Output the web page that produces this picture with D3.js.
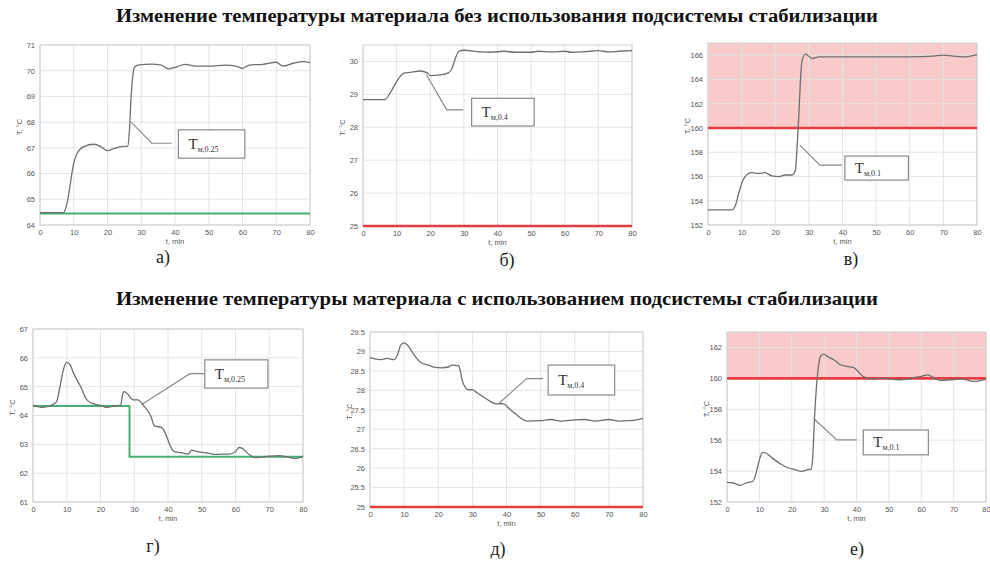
<!DOCTYPE html>
<html>
<head>
<meta charset="utf-8">
<script src="https://cdn.jsdelivr.net/npm/d3@7"></script>
<style>
  body { margin: 0; background: #fff; }
</style>
</head>
<body>
<div id="chart"></div>
<script>
// Titles of the two rows
const titleTop = "Изменение температуры материала без использования подсистемы стабилизации";
const titleBottom = "Изменение температуры материала с использованием подсистемы стабилизации";

const timeTicks = [0, 10, 20, 30, 40, 50, 60, 70, 80];

// а) T at 0.25, no stabilisation
const timeA = [0, 7, 8, 10, 11, 13, 16, 18, 20, 22, 24, 26, 26.5, 27, 28, 29, 33, 36, 38, 40, 43, 46, 50, 55, 58, 60, 62, 66, 70, 72, 75, 78, 80];
const tempA = [64.48, 64.48, 64.84, 66.40, 66.79, 67.05, 67.14, 67.05, 66.89, 66.98, 67.05, 67.07, 67.69, 68.99, 70.13, 70.22, 70.26, 70.22, 70.07, 70.13, 70.25, 70.18, 70.18, 70.22, 70.18, 70.09, 70.22, 70.25, 70.33, 70.18, 70.29, 70.35, 70.31];
const levelA = 64.45;
const yTicksA = [64, 65, 66, 67, 68, 69, 70, 71];

// б) T at 0.4, no stabilisation
const timeB = [0, 6.5, 8, 10, 11, 12, 14, 17, 19, 20, 23, 25.5, 26.5, 27.5, 28.5, 30, 35, 38, 42, 45, 50, 52, 56, 60, 62, 65, 68, 70, 73, 76, 80];
const tempB = [28.84, 28.84, 29.03, 29.39, 29.54, 29.64, 29.67, 29.71, 29.66, 29.57, 29.59, 29.66, 29.80, 30.10, 30.31, 30.34, 30.29, 30.28, 30.31, 30.28, 30.28, 30.31, 30.29, 30.31, 30.28, 30.29, 30.31, 30.33, 30.29, 30.31, 30.33];
const limitB = 25;
const yTicksB = [25, 26, 27, 28, 29, 30];

// в) T at 0.1, no stabilisation
const timeC = [0, 7, 8, 9, 10, 11, 13, 15, 17, 19, 21, 23, 25, 26, 26.5, 27, 27.5, 28, 29, 31, 33, 40, 50, 60, 67, 70, 73, 76, 80];
const tempC = [153.24, 153.24, 153.51, 154.47, 155.43, 155.98, 156.31, 156.25, 156.31, 156.04, 155.98, 156.12, 156.12, 156.53, 158.45, 160.92, 163.94, 165.59, 166.08, 165.72, 165.86, 165.86, 165.86, 165.86, 165.92, 166.0, 165.92, 165.86, 166.05];
const limitC = 160;
const yTicksC = [152, 154, 156, 158, 160, 162, 164, 166];

// г) T at 0.25, with stabilisation
const timeD = [0, 3, 6, 7, 8, 9, 10, 11, 12, 14, 16, 18, 20, 22, 24, 26, 26.5, 27, 28, 29, 30, 31, 33, 35, 36, 38, 39, 40, 41, 42, 44, 46, 47, 49, 51, 54, 56, 58, 60, 61, 62, 64, 66, 70, 73, 76, 78, 80];
const tempD = [64.36, 64.28, 64.39, 64.48, 65.0, 65.58, 65.84, 65.76, 65.47, 65.03, 64.54, 64.40, 64.35, 64.28, 64.33, 64.36, 64.71, 64.83, 64.75, 64.60, 64.54, 64.54, 64.31, 63.96, 63.63, 63.59, 63.44, 63.15, 62.86, 62.74, 62.71, 62.66, 62.80, 62.74, 62.71, 62.65, 62.66, 62.66, 62.74, 62.89, 62.86, 62.65, 62.54, 62.59, 62.61, 62.54, 62.51, 62.59];
const setTimeD = [0, 28.6, 28.6, 80];
const setTempD = [64.33, 64.33, 62.57, 62.57];
const yTicksD = [61, 62, 63, 64, 65, 66, 67];

// д) T at 0.4, with stabilisation
const timeE = [0, 3, 5, 7, 8, 9, 10, 11, 13, 15, 17, 19, 21, 23, 24, 26, 26.5, 27, 28, 29, 30, 31, 33, 35, 37, 39, 41, 43, 45, 46, 50, 53, 56, 60, 63, 66, 70, 73, 76, 78, 80];
const tempE = [28.84, 28.79, 28.82, 28.79, 28.90, 29.16, 29.22, 29.16, 28.90, 28.71, 28.65, 28.59, 28.58, 28.60, 28.65, 28.63, 28.48, 28.26, 28.07, 28.01, 28.02, 27.96, 27.84, 27.73, 27.65, 27.66, 27.51, 27.37, 27.24, 27.21, 27.22, 27.25, 27.21, 27.24, 27.25, 27.21, 27.25, 27.21, 27.22, 27.24, 27.28];
const limitE = 25;
const yTicksE = [25, 25.5, 26, 26.5, 27, 27.5, 28, 28.5, 29, 29.5];

// е) T at 0.1, with stabilisation
const timeF = [0, 2, 4, 6, 8, 9, 10, 11, 12, 14, 17, 19, 21, 23, 25, 26, 26.5, 27, 28, 29, 30, 31, 33, 35, 37, 39, 41, 42, 45, 48, 50, 53, 56, 58, 60, 62, 64, 66, 69, 72, 74, 76, 78, 80];
const tempF = [153.27, 153.23, 153.08, 153.23, 153.34, 153.88, 154.74, 155.21, 155.17, 154.84, 154.41, 154.20, 154.09, 153.98, 154.09, 154.13, 154.95, 157.32, 160.34, 161.46, 161.57, 161.42, 161.20, 160.88, 160.77, 160.71, 160.34, 160.13, 159.95, 160.02, 159.97, 159.91, 159.95, 160.06, 160.13, 160.23, 160.02, 159.87, 159.91, 159.95, 159.91, 159.80, 159.84, 159.95];
const limitF = 160;
const yTicksF = [152, 154, 156, 158, 160, 162];

const curveColor = "#6f6f6f";
const green = "#45b070";
const red = "#e63b3f";
const pink = "#f8caca";

// panel layout + callouts (callout points given in data units)
const panels = [
  { name: "а)", time: timeA, temp: tempA, yDomain: [64, 71], yTicks: yTicksA,
    box: { left: 40, right: 310, top: 45, bottom: 225 }, nameAt: [163, 263],
    green: { time: [0, 80], temp: [levelA, levelA] },
    sub: "м,0.25", leader: [[27, 68.0], [33.1, 67.18], [39, 67.18]], label: [41, 60.7, 67.7, 66.6] },
  { name: "б)", time: timeB, temp: tempB, yDomain: [25, 30.5], yTicks: yTicksB,
    box: { left: 363, right: 632, top: 45, bottom: 226 }, nameAt: [507, 266],
    red: limitB,
    sub: "м,0.4", leader: [[18.9, 29.59], [24.9, 28.53], [29.8, 28.53]], label: [32.3, 50.9, 28.88, 28.04] },
  { name: "в)", time: timeC, temp: tempC, yDomain: [152, 167], yTicks: yTicksC,
    box: { left: 708, right: 977, top: 43, bottom: 225 }, nameAt: [851, 265],
    red: limitC, band: [limitC, 167],
    sub: "м,0.1", leader: [[27.3, 158.58], [33.3, 156.94], [39.8, 156.94]], label: [40.7, 59.6, 157.68, 155.7] },
  { name: "г)", time: timeD, temp: tempD, yDomain: [61, 67], yTicks: yTicksD,
    box: { left: 33, right: 303, top: 329, bottom: 502 }, nameAt: [153, 552],
    green: { time: setTimeD, temp: setTempD },
    sub: "м,0.25", leader: [[32.1, 64.37], [46.5, 65.45], [50.9, 65.45]], label: [50.9, 69.6, 65.93, 64.95] },
  { name: "д)", time: timeE, temp: tempE, yDomain: [25, 29.5], yTicks: yTicksE,
    box: { left: 370, right: 643, top: 332, bottom: 507 }, nameAt: [498, 555],
    red: limitE,
    sub: "м,0.4", leader: [[37.6, 27.65], [45.9, 28.3], [50.7, 28.3]], label: [52.2, 71.7, 28.65, 27.88] },
  { name: "е)", time: timeF, temp: tempF, yDomain: [152, 163], yTicks: yTicksF,
    box: { left: 727, right: 986, top: 332, bottom: 502 }, nameAt: [857, 555],
    red: limitF, band: [limitF, 163],
    sub: "м,0.1", leader: [[26.7, 157.42], [33.9, 156.02], [40.1, 156.02]], label: [42.1, 62.2, 156.66, 155.05] }
];

const svg = d3.select("#chart").append("svg")
  .attr("width", 990)
  .attr("height", 562)
  .style("font-family", "'Liberation Sans', Arial, sans-serif");

// row titles
[[titleTop, 22], [titleBottom, 305]].forEach(([txt, y]) => {
  svg.append("text")
    .attr("x", 116).attr("y", y)
    .attr("textLength", 762).attr("lengthAdjust", "spacingAndGlyphs")
    .style("font-family", "'Liberation Serif', 'Times New Roman', serif")
    .style("font-weight", "bold").style("font-size", "18px").style("fill", "#111")
    .text(txt);
});

const fmt = d3.format("~g");

panels.forEach(p => {
  const b = p.box;
  const x = d3.scaleLinear().domain([0, 80]).range([b.left, b.right]);
  const y = d3.scaleLinear().domain(p.yDomain).range([b.bottom, b.top]);
  const g = svg.append("g");

  // pink band above limit
  if (p.band) {
    g.append("rect")
      .attr("x", x(0)).attr("width", x(80) - x(0))
      .attr("y", y(p.band[1])).attr("height", y(p.band[0]) - y(p.band[1]))
      .attr("fill", pink);
  }

  // grid
  g.append("g").selectAll("line").data(timeTicks).join("line")
    .attr("x1", d => x(d)).attr("x2", d => x(d))
    .attr("y1", b.top).attr("y2", b.bottom)
    .attr("stroke", "#e4e4e4").attr("stroke-width", 1);
  g.append("g").selectAll("line").data(p.yTicks).join("line")
    .attr("x1", b.left).attr("x2", b.right)
    .attr("y1", d => y(d)).attr("y2", d => y(d))
    .attr("stroke", "#e4e4e4").attr("stroke-width", 1);
  g.append("rect")
    .attr("x", b.left).attr("y", b.top)
    .attr("width", b.right - b.left).attr("height", b.bottom - b.top)
    .attr("fill", "none").attr("stroke", "#cdcdcd");

  // axes
  const xAxis = g.append("g")
    .attr("transform", `translate(0,${b.bottom})`)
    .call(d3.axisBottom(x).tickValues(timeTicks).tickFormat(fmt).tickSize(0).tickPadding(5));
  const yAxis = g.append("g")
    .attr("transform", `translate(${b.left},0)`)
    .call(d3.axisLeft(y).tickValues(p.yTicks).tickFormat(fmt).tickSize(0).tickPadding(5));
  [xAxis, yAxis].forEach(a => {
    a.select(".domain").remove();
    a.selectAll("text").style("font-size", "7.5px").style("fill", "#555")
      .style("font-family", "'Liberation Sans', Arial, sans-serif");
  });

  g.append("text")
    .attr("x", (b.left + b.right) / 2).attr("y", b.bottom + 19)
    .attr("text-anchor", "middle")
    .style("font-size", "7.5px").style("fill", "#555")
    .text("t, min");
  g.append("text")
    .attr("transform", `translate(${b.left - 18},${(b.top + b.bottom) / 2 - 8}) rotate(-90)`)
    .attr("text-anchor", "middle")
    .style("font-size", "7.5px").style("fill", "#555")
    .text("T, °C");

  // reference lines
  if (p.green) {
    const pts = p.green.time.map((t, i) => [t, p.green.temp[i]]);
    g.append("path")
      .datum(pts)
      .attr("d", d3.line().x(d => x(d[0])).y(d => y(d[1])))
      .attr("fill", "none").attr("stroke", green).attr("stroke-width", 2);
  }
  if (p.red !== undefined) {
    g.append("line")
      .attr("x1", x(0)).attr("x2", x(80))
      .attr("y1", y(p.red)).attr("y2", y(p.red))
      .attr("stroke", red).attr("stroke-width", 2.6);
  }

  // temperature curve
  const pts = p.time.map((t, i) => [t, p.temp[i]]);
  g.append("path")
    .datum(pts)
    .attr("d", d3.line().x(d => x(d[0])).y(d => y(d[1])).curve(d3.curveMonotoneX))
    .attr("fill", "none").attr("stroke", curveColor).attr("stroke-width", 1.3);

  // callout leader and box
  g.append("path")
    .datum(p.leader)
    .attr("d", d3.line().x(d => x(d[0])).y(d => y(d[1])))
    .attr("fill", "none").attr("stroke", "#8a8a8a").attr("stroke-width", 1.2);
  const [t0, t1, v0, v1] = p.label;
  g.append("rect")
    .attr("x", x(t0)).attr("y", y(v0))
    .attr("width", x(t1) - x(t0)).attr("height", y(v1) - y(v0))
    .attr("fill", "#fff").attr("stroke", "#8a8a8a").attr("stroke-width", 1.2);
  const lbl = g.append("text")
    .attr("x", x(t0) + 10).attr("y", (y(v0) + y(v1)) / 2 + 5)
    .style("font-family", "'Liberation Serif', 'Times New Roman', serif")
    .style("font-size", "15px").style("fill", "#333");
  lbl.append("tspan").text("T");
  lbl.append("tspan").attr("dy", 3).style("font-size", "8px").text(p.sub);

  // panel name
  svg.append("text")
    .attr("x", p.nameAt[0]).attr("y", p.nameAt[1])
    .attr("text-anchor", "middle")
    .style("font-family", "'Liberation Serif', 'Times New Roman', serif")
    .style("font-size", "18px").style("fill", "#222")
    .text(p.name);
});
</script>
</body>
</html>
